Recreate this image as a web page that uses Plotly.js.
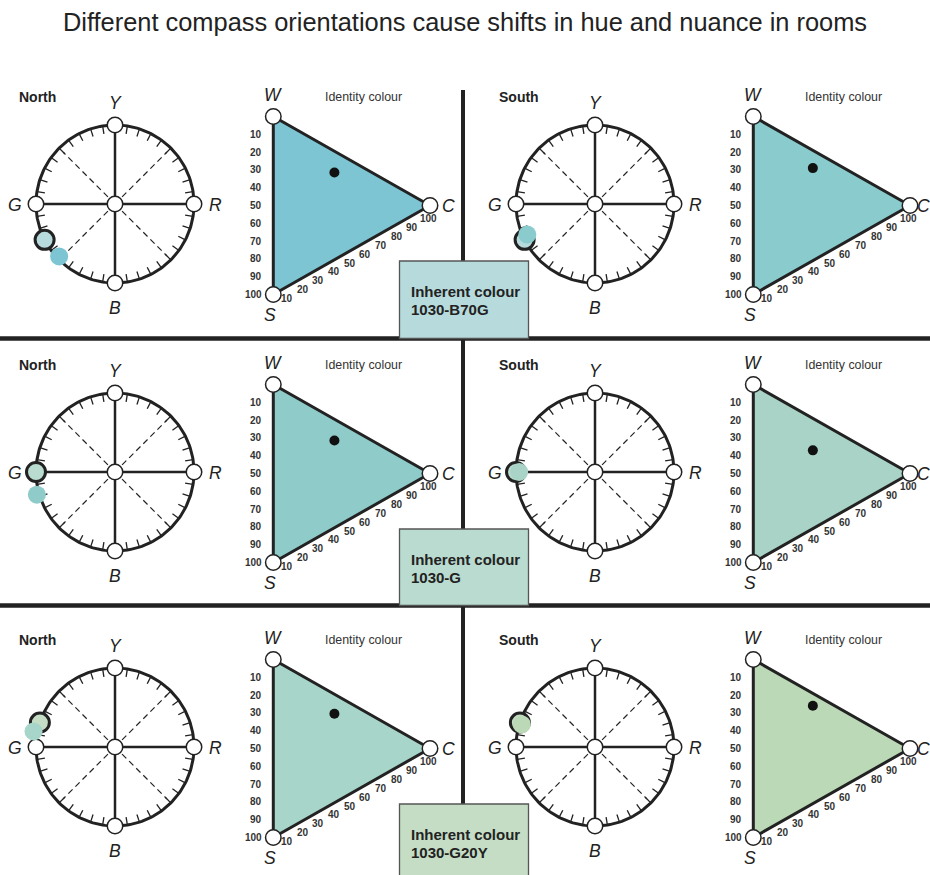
<!DOCTYPE html>
<html><head><meta charset="utf-8">
<script src="https://cdn.plot.ly/plotly-3.0.1.min.js"></script>
<style>html,body{margin:0;padding:0;background:#fff;}#chart{width:930px;height:875px;}</style>
</head><body><div id="chart"></div>
<script>
// ---------------- data ----------------
const titleText = 'Different compass orientations cause shifts in hue and nuance in rooms';
const inherentColourCodes = ['1030-B70G', '1030-G', '1030-G20Y'];
const inherentHueSteps = [270, 300, 320];            // NCS hue steps: Y=0, R=100, B=200, G=300
const inherentColours = ['#b7dadc', '#badbcf', '#c5ddc5'];
const orientationNames = ['North', 'South'];
const northHueSteps = [252, 282, 312];
const southHueSteps = [273, 300, 319];
const northHueRadius = [0.97, 1.03, 1.05];           // drawn distance of the perceived-hue dot from the centre
const southHueRadius = [0.94, 0.96, 0.97];
const northColours = ['#7dc5d3', '#8ecbc9', '#a8d5c9'];
const southColours = ['#8acbcd', '#a9d3c6', '#bcd9b7'];
const northBlackness = [12, 12, 11];
const northChromaticness = [39, 39, 39];
const southBlackness = [10, 18, 7];
const southChromaticness = [38, 38, 38];
const hueNodeNames = ['Y', 'R', 'B', 'G'];
const hueNodeSteps = [0, 100, 200, 300];
const scaleTickValues = [10, 20, 30, 40, 50, 60, 70, 80, 90, 100];
const triangleCornerNames = ['W', 'S', 'C'];
const identityLabel = 'Identity colour';
const inherentLabel = 'Inherent colour';

// ---------------- geometry / style ----------------
const FONT = 'Liberation Sans, Arial, sans-serif';
const INK = '#222';
const rowCY = [204, 472, 747];
const colOffset = [0, 480];
const separatorY = [338.5, 605.5];
const CIRCLE_CX = 115, RADIUS = 79, TICK_LEN = 8;
const TRI_WX = 273.3, TRI_WDY = -87.5, TRI_H = 178, TRI_CX = 156.7, TRI_CY = 89;

function huePoint(cx, cy, step, rf) {
  rf = rf || 1;
  const a = (90 - step * 0.9) * Math.PI / 180;
  return [cx + RADIUS * rf * Math.cos(a), cy - RADIUS * rf * Math.sin(a)];
}
function triPoint(wx, wy, s, c) {
  return [wx + c / 100 * TRI_CX, wy + s / 100 * TRI_H + c / 100 * TRI_CY];
}
function hasFont(name) {
  const ctx = document.createElement('canvas').getContext('2d');
  const t = 'Identity colour WWmmii';
  ctx.font = '40px monospace'; const a = ctx.measureText(t).width;
  ctx.font = '40px "' + name + '", monospace'; const b = ctx.measureText(t).width;
  return Math.abs(a - b) > 0.5;
}
const narrow = hasFont('Liberation Sans Narrow');
const idFont = narrow ? {family: 'Liberation Sans Narrow', size: 15, color: '#333'} : {family: FONT, size: 12.4, color: '#333'};

const outline = {x: [], y: []}, ticks = {x: [], y: []}, dashed = {x: [], y: []}, cross = {x: [], y: []};
const nodes = {x: [], y: []};
const bigHue = {x: [], y: [], c: []}, smallHue = {x: [], y: [], c: []};
const triDots = {x: [], y: []}, triNodes = {x: [], y: []};
const triangles = [];
const annotations = [];
const shapes = [];

function ann(x, y, text, font, extra) {
  annotations.push(Object.assign({x: x, y: y, xref: 'x', yref: 'y', text: text, showarrow: false,
    xanchor: 'center', yanchor: 'middle', font: Object.assign({family: FONT, color: INK}, font)}, extra || {}));
}
function push(o, pts) { pts.forEach(p => { o.x.push(p[0]); o.y.push(p[1]); }); o.x.push(null); o.y.push(null); }

// separators
separatorY.forEach(y => shapes.push({type: 'line', xref: 'x', yref: 'y', x0: 0, x1: 930, y0: y, y1: y, line: {color: INK, width: 4.5}}));
shapes.push({type: 'line', xref: 'x', yref: 'y', x0: 463, x1: 463, y0: 90, y1: 880, line: {color: INK, width: 4}});

for (let r = 0; r < 3; r++) {
  const cy = rowCY[r];
  for (let k = 0; k < 2; k++) {
    const off = colOffset[k];
    const cx = CIRCLE_CX + off;
    // hue circle
    const circ = [];
    for (let i = 0; i <= 400; i += 2) circ.push(huePoint(cx, cy, i));
    push(outline, circ);
    for (let st = 10; st < 400; st += 10) {
      if (st % 100 === 0) continue;
      push(ticks, [huePoint(cx, cy, st), huePoint(cx, cy, st, 1 - TICK_LEN / RADIUS)]);
    }
    [50, 150, 250, 350].forEach(st => push(dashed, [[cx, cy], huePoint(cx, cy, st, 0.93)]));
    push(cross, [huePoint(cx, cy, 0), huePoint(cx, cy, 200)]);
    push(cross, [huePoint(cx, cy, 100), huePoint(cx, cy, 300)]);
    hueNodeSteps.forEach(st => { const p = huePoint(cx, cy, st); nodes.x.push(p[0]); nodes.y.push(p[1]); });
    nodes.x.push(cx); nodes.y.push(cy);
    const lblOff = [[0, -101], [100, 1], [0, 104], [-100, 1]];
    hueNodeNames.forEach((n, i) => ann(cx + lblOff[i][0], cy + lblOff[i][1], '<i>' + n + '</i>', {size: 17.5}));
    ann(cx - 98, cy - 107, '<b>' + orientationNames[k] + '</b>', {size: 14}, {xanchor: 'left'});

    const bp = huePoint(cx, cy, inherentHueSteps[r]);
    bigHue.x.push(bp[0]); bigHue.y.push(bp[1]); bigHue.c.push(inherentColours[r]);
    const ph = k === 0 ? northHueSteps[r] : southHueSteps[r];
    const pr = k === 0 ? northHueRadius[r] : southHueRadius[r];
    const pc = k === 0 ? northColours[r] : southColours[r];
    const sp = huePoint(cx, cy, ph, pr);
    smallHue.x.push(sp[0]); smallHue.y.push(sp[1]); smallHue.c.push(pc);

    // nuance triangle
    const wx = TRI_WX + off, wy = cy + TRI_WDY;
    const Wp = triPoint(wx, wy, 0, 0), Sp = triPoint(wx, wy, 100, 0), Cp = triPoint(wx, wy, 0, 100);
    triangles.push({x: [Wp[0], Cp[0], Sp[0], Wp[0]], y: [Wp[1], Cp[1], Sp[1], Wp[1]], color: pc});
    [Wp, Sp, Cp].forEach(p => { triNodes.x.push(p[0]); triNodes.y.push(p[1]); });
    const s = k === 0 ? northBlackness[r] : southBlackness[r];
    const c = k === 0 ? northChromaticness[r] : southChromaticness[r];
    const dp = triPoint(wx, wy, s, c);
    triDots.x.push(dp[0]); triDots.y.push(dp[1]);
    scaleTickValues.forEach(v => {
      const lp = triPoint(wx, wy, v, 0);
      ann(lp[0] - 9, lp[1], '<b>' + v + '</b>', {size: 10, color: '#333'}, {xanchor: 'right'});
      const bpnt = triPoint(wx, wy, 100 - v, v);
      ann(bpnt[0] - 2, bpnt[1] + 13, '<b>' + v + '</b>', {size: 10, color: '#333'});
    });
    ann(Wp[0], Wp[1] - 21.5, '<i>' + triangleCornerNames[0] + '</i>', {size: 17.5});
    ann(Sp[0] - 3, Sp[1] + 20, '<i>' + triangleCornerNames[1] + '</i>', {size: 17.5});
    ann(Math.min(Cp[0] + 18, 923), Cp[1], '<i>' + triangleCornerNames[2] + '</i>', {size: 17.5});
    ann(Wp[0] + 90, Wp[1] - 20, identityLabel, idFont);
  }
  // inherent colour box
  const y0 = cy + 57, y1 = r < 2 ? separatorY[r] : 880;
  shapes.push({type: 'rect', xref: 'x', yref: 'y', x0: 399.5, x1: 528.5, y0: y0, y1: y1,
    fillcolor: inherentColours[r], line: {color: '#555', width: 1.3}});
  ann(409, y0 + 30, '<b>' + inherentLabel + '</b>', {size: 15}, {xanchor: 'left'});
  ann(409, y0 + 48.5, '<b>' + inherentColourCodes[r] + '</b>', {size: 15}, {xanchor: 'left'});
}

const traces = [];
traces.push({x: outline.x, y: outline.y, mode: 'lines', line: {color: INK, width: 3}, hoverinfo: 'skip'});
traces.push({x: ticks.x, y: ticks.y, mode: 'lines', line: {color: INK, width: 1.3}, hoverinfo: 'skip'});
traces.push({x: dashed.x, y: dashed.y, mode: 'lines', line: {color: INK, width: 1.2, dash: '6px,4px'}, hoverinfo: 'skip'});
traces.push({x: cross.x, y: cross.y, mode: 'lines', line: {color: INK, width: 2.5}, hoverinfo: 'skip'});
traces.push({x: nodes.x, y: nodes.y, mode: 'markers', marker: {size: 15.5, color: '#fff', line: {color: INK, width: 1.5}}, hoverinfo: 'skip'});
traces.push({x: bigHue.x, y: bigHue.y, mode: 'markers', marker: {size: 19, color: bigHue.c, line: {color: INK, width: 3}}, hoverinfo: 'skip'});
traces.push({x: smallHue.x, y: smallHue.y, mode: 'markers', marker: {size: 18, color: smallHue.c, line: {width: 0}}, hoverinfo: 'skip'});
triangles.forEach(t => traces.push({x: t.x, y: t.y, mode: 'lines', fill: 'toself', fillcolor: t.color,
  line: {color: INK, width: 3}, hoverinfo: 'skip'}));
traces.push({x: triDots.x, y: triDots.y, mode: 'markers', marker: {size: 10, color: '#111'}, hoverinfo: 'skip'});
traces.push({x: triNodes.x, y: triNodes.y, mode: 'markers', marker: {size: 15.5, color: '#fff', line: {color: INK, width: 1.5}}, hoverinfo: 'skip'});

const layout = {
  width: 930, height: 875, autosize: false,
  margin: {l: 0, r: 0, t: 0, b: 0, pad: 0},
  paper_bgcolor: '#fff', plot_bgcolor: '#fff', showlegend: false,
  font: {family: FONT, color: INK},
  title: {text: titleText, font: {family: FONT, size: 25.4, color: INK}, x: 0.5, xanchor: 'center',
    y: 1 - 22 / 875, yanchor: 'middle', yref: 'container'},
  xaxis: {range: [0, 930], visible: false, fixedrange: true},
  yaxis: {range: [875, 0], visible: false, fixedrange: true},
  shapes: shapes, annotations: annotations
};
Plotly.newPlot('chart', traces, layout, {staticPlot: true, displayModeBar: false});
</script></body></html>
